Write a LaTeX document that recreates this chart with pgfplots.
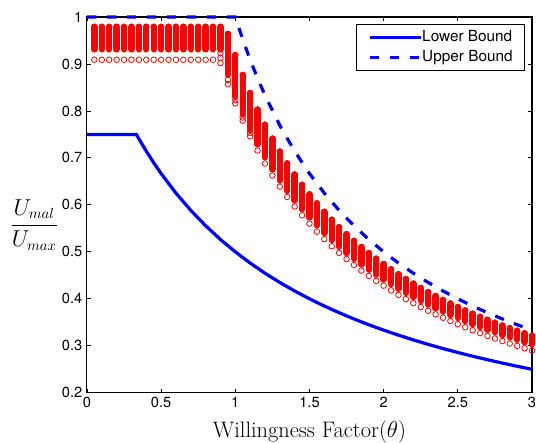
\documentclass[border=0pt]{standalone}
\usepackage{fontspec}
\usepackage{pgfplots}
\pgfplotsset{compat=1.18}
\usepackage{pgfplotstable}
\newfontfamily\helv{TeX Gyre Heros}

% simulated ratios: top of column, bottom of dense part, lowest circle
\pgfplotstableread{
t    top    dlo    blo
0.05 0.979  0.931  0.909
0.10 0.979  0.931  0.909
0.15 0.979  0.931  0.909
0.20 0.979  0.931  0.909
0.25 0.979  0.931  0.909
0.30 0.979  0.931  0.909
0.35 0.979  0.931  0.909
0.40 0.979  0.931  0.909
0.45 0.979  0.931  0.909
0.50 0.979  0.931  0.909
0.55 0.979  0.931  0.909
0.60 0.979  0.931  0.909
0.65 0.979  0.931  0.909
0.70 0.979  0.931  0.909
0.75 0.979  0.931  0.909
0.80 0.979  0.931  0.909
0.85 0.979  0.931  0.909
0.90 0.979  0.931  0.902
0.95 0.964  0.877  0.857
1.00 0.919  0.830  0.816
1.05 0.8766 0.7924 0.7794
1.10 0.8381 0.7592 0.7462
1.15 0.8029 0.7288 0.7158
1.20 0.7707 0.7010 0.6880
1.25 0.7410 0.6754 0.6624
1.30 0.7136 0.6518 0.6388
1.35 0.6883 0.6299 0.6169
1.40 0.6647 0.6096 0.5966
1.45 0.6428 0.5907 0.5777
1.50 0.6223 0.5730 0.5600
1.55 0.6032 0.5560 0.5430
1.60 0.5853 0.5400 0.5270
1.65 0.5684 0.5250 0.5120
1.70 0.5525 0.5109 0.4979
1.75 0.5376 0.4976 0.4846
1.80 0.5234 0.4850 0.4720
1.85 0.5101 0.4731 0.4601
1.90 0.4974 0.4618 0.4488
1.95 0.4854 0.4512 0.4382
2.00 0.4740 0.4410 0.4280
2.05 0.4628 0.4310 0.4180
2.10 0.4522 0.4215 0.4085
2.15 0.4420 0.4124 0.3994
2.20 0.4324 0.4037 0.3907
2.25 0.4231 0.3954 0.3824
2.30 0.4143 0.3875 0.3745
2.35 0.4058 0.3799 0.3669
2.40 0.3977 0.3727 0.3597
2.45 0.3899 0.3657 0.3527
2.50 0.3824 0.3590 0.3460
2.55 0.3752 0.3524 0.3394
2.60 0.3683 0.3461 0.3331
2.65 0.3617 0.3400 0.3270
2.70 0.3553 0.3341 0.3211
2.75 0.3491 0.3285 0.3155
2.80 0.3431 0.3230 0.3100
2.85 0.3374 0.3177 0.3047
2.90 0.3319 0.3127 0.2997
2.95 0.3265 0.3077 0.2947
3.00 0.3213 0.3030 0.2900
}\cols

\pgfplotstableread{
t    u
0    0.75
0.3333 0.75
0.35 0.7407
0.4  0.7143
0.45 0.6897
0.5  0.6667
0.6  0.6250
0.7  0.5882
0.8  0.5556
0.9  0.5263
1.0  0.5000
1.1  0.4762
1.2  0.4545
1.3  0.4348
1.4  0.4167
1.5  0.4000
1.6  0.3846
1.7  0.3704
1.8  0.3571
1.9  0.3448
2.0  0.3333
2.1  0.3226
2.2  0.3125
2.3  0.3030
2.4  0.2941
2.5  0.2857
2.6  0.2778
2.7  0.2703
2.8  0.2632
2.9  0.2564
3.0  0.2500
}\lowerbd

\pgfplotstableread{
t    u
0    1
1.0  1
1.05 0.9524
1.1  0.9091
1.15 0.8696
1.2  0.8333
1.3  0.7692
1.4  0.7143
1.5  0.6667
1.6  0.6250
1.7  0.5882
1.8  0.5556
1.9  0.5263
2.0  0.5000
2.1  0.4762
2.2  0.4545
2.3  0.4348
2.4  0.4167
2.5  0.4000
2.6  0.3846
2.7  0.3704
2.8  0.3571
2.9  0.3448
3.0  0.3333
}\upperbd

\begin{document}
\begin{tikzpicture}
\begin{axis}[
  scale only axis, width=334pt, height=282pt,
  xmin=0, xmax=3, ymin=0.2, ymax=1,
  xtick={0,0.5,1,1.5,2,2.5,3},
  ytick={0.2,0.3,0.4,0.5,0.6,0.7,0.8,0.9,1},
  tick align=inside, major tick length=3pt,
  tick pos=both, xticklabel pos=bottom, yticklabel pos=left,
  tick style={black, line width=0.6pt},
  axis line style={line width=0.8pt},
  ticklabel style={font=\helv\fontsize{11}{13}\selectfont},
  /pgf/number format/assume math mode=true,
  clip=false,
  xlabel={Willingness Factor($\theta$)},
  xlabel style={font=\fontsize{16.8}{20}\selectfont,
    at={(axis description cs:0.5,0)}, anchor=base, yshift=-33.5pt},
  ylabel={$\displaystyle\frac{U_{mal}}{U_{max}}$},
  ylabel style={font=\fontsize{16}{19}\selectfont, rotate=-90,
    at={(axis description cs:-0.054,0.447)}, anchor=east},
  legend style={at={(1,1)}, anchor=north east, xshift=-5.25pt, yshift=-5.25pt,
    font=\helv\fontsize{11.5}{13}\selectfont, draw=black, line width=0.6pt,
    inner xsep=9pt, inner ysep=4.25pt, row sep=4pt,
    nodes={inner sep=0pt, text height=8.5pt, text depth=2.5pt}},
  legend cell align=left,
  legend image code/.code={\draw[#1] (0pt,0pt) -- (38pt,0pt);},
]
\addplot[blue, line width=2.4pt] table[x=t, y=u] {\lowerbd};
\addlegendentry{Lower Bound}
\addplot[blue, line width=2.4pt, dash pattern=on 7pt off 8pt] table[x=t, y=u] {\upperbd};
\addlegendentry{Upper Bound}

% dense runs of circles
\addplot[forget plot, red, only marks, mark=none,
  error bars/.cd, y dir=minus, y explicit, error mark=none,
  error bar style={red, line width=4.8pt, line cap=round}]
  table[x=t, y=top, y error expr=\thisrow{top}-\thisrow{dlo}] {\cols};
\addplot[forget plot, red, only marks, mark=o, mark size=2.1pt, line width=0.6pt]
  table[x=t, y=top] {\cols};
\addplot[forget plot, red, only marks, mark=o, mark size=2.1pt, line width=0.6pt]
  table[x=t, y=blo] {\cols};
\addplot[forget plot, red, only marks, mark=o, mark size=2.1pt, line width=0.6pt]
  coordinates {(0.90,0.923) (0.90,0.913) (0.95,0.866) (1.00,0.823) (1.05,0.786) (1.10,0.753)};
\end{axis}
\pgfresetboundingbox
\path[use as bounding box] ([shift={(-65.25pt,-37.5pt)}]current axis.south west)
  rectangle ([shift={(3pt,12.75pt)}]current axis.north east);
\end{tikzpicture}
\end{document}
